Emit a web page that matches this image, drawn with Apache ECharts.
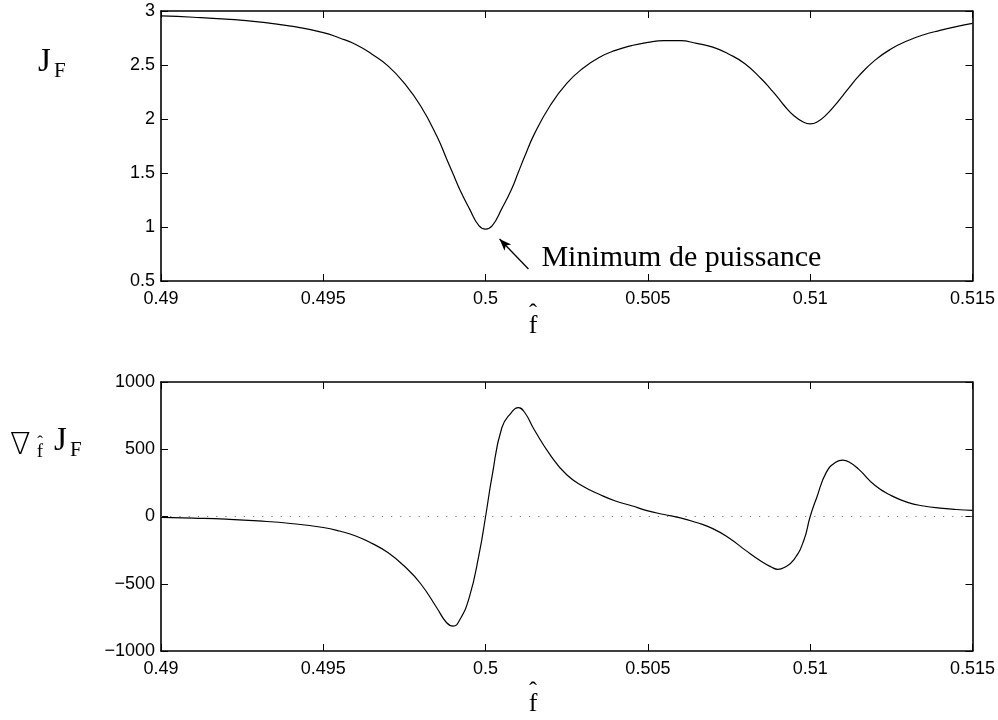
<!DOCTYPE html>
<html>
<head>
<meta charset="utf-8">
<script src="https://cdn.jsdelivr.net/npm/echarts@6/dist/echarts.min.js"></script>
<style>
html,body{margin:0;padding:0;background:#fff;}
#main{width:998px;height:720px;}
</style>
</head>
<body>
<div id="main"></div>
<script>
// ---- data ----
const fHat = [0.490,0.491,0.492,0.493,0.494,0.495,0.4955,0.496,0.4965,0.497,0.4975,0.498,0.4985,0.4988,0.499,0.4992,0.4995,0.4998,
  0.500,0.5002,0.5005,0.5008,0.501,0.5012,0.5015,0.502,0.5025,0.503,0.5035,0.504,0.5045,0.505,0.5055,0.506,0.5065,0.507,0.5075,0.508,0.5085,0.5088,0.509,0.5092,0.5095,0.5098,
  0.510,0.5102,0.5105,0.5108,0.511,0.5112,0.5115,0.512,0.5125,0.513,0.5135,0.514,0.5145,0.515];
const JF = [2.954,2.942,2.925,2.900,2.860,2.800,2.750,2.690,2.600,2.490,2.330,2.120,1.840,1.630,1.490,1.350,1.170,1.010,
  0.980,1.010,1.170,1.350,1.500,1.650,1.860,2.130,2.330,2.470,2.570,2.635,2.680,2.710,2.725,2.725,2.700,2.665,2.600,2.510,2.370,2.270,2.200,2.125,2.030,1.970,
  1.955,1.970,2.040,2.140,2.215,2.290,2.400,2.545,2.650,2.725,2.780,2.820,2.855,2.886];
const gradJF = [-6,-12,-20,-33,-52,-82,-108,-145,-200,-270,-370,-500,-680,-790,-815,-770,-600,-280,
  0,300,660,775,810,775,645,455,310,225,165,115,80,42,15,-10,-45,-90,-160,-250,-335,-375,-393,-380,-320,-180,
  0,140,330,405,419,405,350,230,155,105,78,62,52,45];
const zeroLineX = [0.490, 0.515];
const zeroLineY = [0, 0];
const xRange = [0.490, 0.515], xStep = 0.005;
const yRangeTop = [0.5, 3], yStepTop = 0.5;
const yRangeBottom = [-1000, 1000], yStepBottom = 500;
const annotationText = 'Minimum de puissance';
const arrowFrom = [0.50132, 0.611], arrowTo = [0.50043, 0.889];
const textAnchor = [0.50172, 0.713];

const chart = echarts.init(document.getElementById('main'), null, {renderer:'canvas'});
const SANS = '"Liberation Sans", Arial, Helvetica, sans-serif';
const SERIF = '"Liberation Serif", "Times New Roman", serif';
const axisLine = {show:true, onZero:false, lineStyle:{color:'#000', width:1.6}};
const tick = {show:true, inside:true, length:7, lineStyle:{color:'#000', width:1}};
const fmtX = v => String(+v.toFixed(3));
const fmtY = v => String(+v.toFixed(3)).replace('-', '\u2212');
const lbl = (extra) => Object.assign({color:'#000', fontFamily:SANS, fontSize:18}, extra);

function xAxes(gi){
  return [
    {type:'value', gridIndex:gi, position:'bottom', min:xRange[0], max:xRange[1], interval:xStep,
     axisLine, axisTick:tick, splitLine:{show:false}, axisLabel:lbl({margin:9, formatter:fmtX, showMinLabel:true, showMaxLabel:true})},
    {type:'value', gridIndex:gi, position:'top', min:xRange[0], max:xRange[1], interval:xStep,
     axisLine, axisTick:tick, splitLine:{show:false}, axisLabel:{show:false}}
  ];
}
function yAxes(gi, r, s){
  return [
    {type:'value', gridIndex:gi, position:'left', min:r[0], max:r[1], interval:s,
     axisLine, axisTick:tick, splitLine:{show:false}, axisLabel:lbl({margin:6, formatter:fmtY})},
    {type:'value', gridIndex:gi, position:'right', min:r[0], max:r[1], interval:s,
     axisLine, axisTick:tick, splitLine:{show:false}, axisLabel:{show:false}}
  ];
}

chart.setOption({
  animation:false,
  backgroundColor:'#fff',
  grid:[
    {left:161, top:11, width:813, height:270},
    {left:161, top:382, width:813, height:269}
  ],
  xAxis:[...xAxes(0), ...xAxes(1)],
  yAxis:[...yAxes(0, yRangeTop, yStepTop), ...yAxes(1, yRangeBottom, yStepBottom)],
  series:[
    {type:'line', xAxisIndex:0, yAxisIndex:0, showSymbol:false, smooth:true, sampling:null,
     data: fHat.map((x,i)=>[x, JF[i]]), lineStyle:{color:'#000', width:1.2},
     markLine:{silent:true, symbol:['none','arrow'], symbolSize:[7,12], label:{show:false},
       lineStyle:{color:'#000', width:1.3, type:'solid'},
       data:[[{coord:arrowFrom},{coord:arrowTo}]]}},
    {type:'line', xAxisIndex:2, yAxisIndex:2, showSymbol:false,
     data: zeroLineX.map((x,i)=>[x, zeroLineY[i]]), lineStyle:{color:'#777', width:1.2, type:[1.2,8]}, z:1},
    {type:'line', xAxisIndex:2, yAxisIndex:2, showSymbol:false, smooth:true,
     data: fHat.map((x,i)=>[x, gradJF[i]]), lineStyle:{color:'#000', width:1.2}, z:3}
  ]
});

const tp = chart.convertToPixel({gridIndex:0}, textAnchor);
function txt(x, y, s, size, family, align, weight){
  return {type:'text', x:x, y:y, silent:true,
    style:{text:s, fill:'#000', font: (weight||'normal') + ' ' + size + 'px ' + (family||SERIF), textAlign:align||'left', textVerticalAlign:'middle'}};
}
chart.setOption({
  graphic:[
    txt(tp[0], tp[1], annotationText, 30),
    // top y-axis name J_F
    txt(38, 62, 'J', 33),
    txt(54, 71, 'F', 21),
    // top x-axis name f-hat
    txt(533, 326, 'f', 26, SERIF, 'center'),
    txt(533, 314, '\u02C6', 24, SERIF, 'center'),
    // bottom y-axis name nabla_fhat J_F
    txt(10, 446, '\u2207', 30, '"DejaVu Sans", sans-serif', 'left', '200'),
    txt(40, 452, 'f', 19, SERIF, 'center'),
    txt(40, 443, '\u02C6', 17, SERIF, 'center'),
    txt(54, 441, 'J', 33),
    txt(70, 450, 'F', 21),
    // bottom x-axis name f-hat
    txt(533, 704, 'f', 26, SERIF, 'center'),
    txt(533, 692, '\u02C6', 24, SERIF, 'center')
  ]
});
</script>
</body>
</html>
